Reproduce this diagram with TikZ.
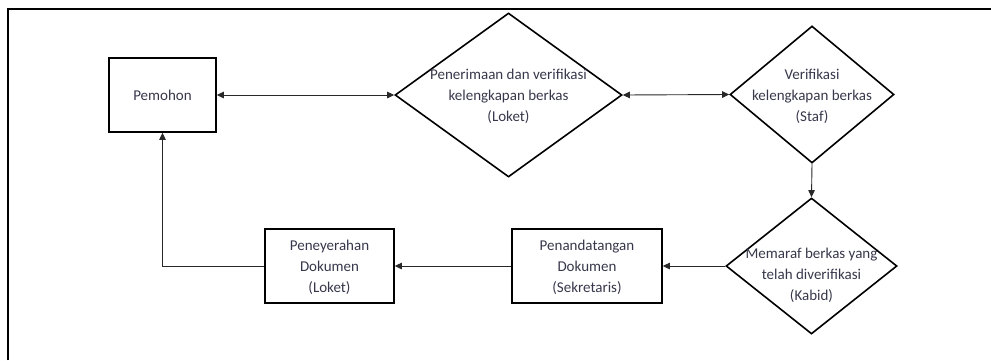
\documentclass[tikz,border=0pt]{standalone}
\usepackage{fontspec}
\setmainfont{Carlito}
\usetikzlibrary{shapes.geometric,arrows.meta}
\definecolor{txtcol}{RGB}{55,55,75}
\definecolor{linecol}{RGB}{40,40,40}
\tikzset{
  boxnode/.style={draw=black, line width=1.6pt, rectangle, inner sep=0pt, minimum height=74pt},
  dianode/.style={draw=black, line width=1.6pt, diamond, inner sep=0pt},
  label text/.style={text=txtcol, align=center, inner sep=0pt, font=\fontsize{15}{21}\selectfont},
  conn/.style={draw=linecol, line width=0.9pt},
  tip/.style={-{Triangle[length=7pt,width=6.5pt]}},
  dtip/.style={{Triangle[length=7pt,width=6.5pt]}-{Triangle[length=7pt,width=6.5pt]}}
}
\begin{document}
\begin{tikzpicture}[x=1pt,y=-1pt]
\useasboundingbox (0,0) rectangle (991,360);
\draw[line width=1.5pt] (8,360) -- (8,9) -- (991,9);
% nodes
\node[boxnode, minimum width=107pt] (pem) at (162.5,95) {};
\node[label text] (pemt) at (pem.center) {Pemohon};
\node[dianode, minimum width=227pt, minimum height=164pt] (d1) at (508.5,95) {};
\node[label text] (d1t) at (508.5,96) {Penerimaan dan verifikasi\\kelengkapan berkas\\(Loket)};
\node[dianode, minimum width=164pt, minimum height=137pt] (d2) at (812,94.5) {};
\node[label text] (d2t) at (812,96) {Verifikasi\\kelengkapan berkas\\(Staf)};
\node[dianode, minimum width=171pt, minimum height=136pt] (d3) at (811.5,266) {};
\node[label text] (d3t) at (811.5,275) {Memaraf berkas yang\\telah diverifikasi\\(Kabid)};
\node[boxnode, minimum width=150pt] (pen) at (587,266) {};
\node[label text] (pent) at (587,267) {Penandatangan\\Dokumen\\(Sekretaris)};
\node[boxnode, minimum width=129pt] (ser) at (329.5,266) {};
\node[label text] (sert) at (329.5,267) {Peneyerahan\\Dokumen\\(Loket)};
% connectors
\draw[conn, dtip] (pem.east) -- (d1.west);
\draw[conn, dtip] (d1.east) -- (d2.west);
\draw[conn, tip] (d2.south) -- (d3.north);
\draw[conn, tip] (d3.west) -- (pen.east);
\draw[conn, tip] (pen.west) -- (ser.east);
\draw[conn, tip] (ser.west) -| (pem.south);
\end{tikzpicture}
\end{document}
